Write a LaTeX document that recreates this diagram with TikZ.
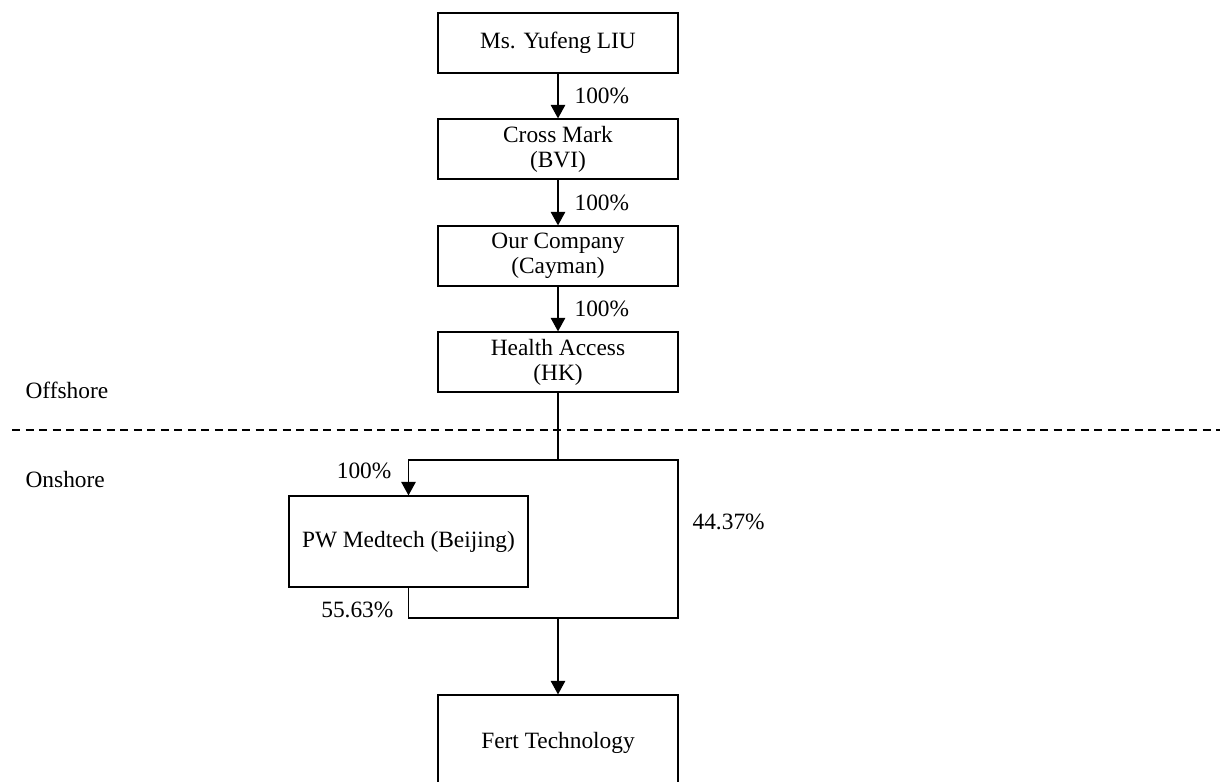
\documentclass[tikz,border=0pt]{standalone}
\usepackage{fontspec}
\setmainfont{Liberation Serif}
\usetikzlibrary{arrows.meta}

\begin{document}
\begin{tikzpicture}[x=0.02cm, y=-0.02cm, line width=0.7pt,
    every node/.style={font=\fontsize{13.3}{14.2}\selectfont},
    firm/.style={draw, align=center, inner sep=2pt, minimum width=4.8cm, minimum height=1.2cm},
    own/.style={-{Triangle[length=0.27cm, width=0.29cm]}},
    pct/.style={inner sep=0pt},
    border/.style={line width=0.6pt, dash pattern=on 4.6pt off 3.1pt}]
  \def\Xmid{558};
  \def\Xpw{408.5};
  \def\Xr{678};
  \def\Ysplit{460};
  \def\Yjoin{618};

  \clip (0,0) rectangle (1220,781);

  % boxes
  \node[firm] (liu) at (\Xmid, 43) {Ms. Yufeng LIU};
  \node[firm] (cross) at (\Xmid, 149) {Cross Mark\\(BVI)};
  \node[firm] (cayman) at (\Xmid, 256) {Our Company\\(Cayman)};
  \node[firm] (hk) at (\Xmid, 362) {Health Access\\(HK)};
  \node[firm, minimum width=4.78cm, minimum height=1.82cm] (pw) at (\Xpw, 541.5) {PW Medtech (Beijing)};
  \node[firm, minimum height=1.92cm] (fert) at (\Xmid, 743) {Fert Technology};

  % offshore / onshore
  \draw[border] (12, 430) -- (1220, 430);
  \node[pct, anchor=west] (off) at (25, 390) {Offshore};
  \node[pct, anchor=west] (on) at (25, 480) {Onshore};

  % arrows
  \draw[own] (liu) -- node[pct, right, xshift=0.32cm] (p1) {100\%} (cross);
  \draw[own] (cross) -- node[pct, right, xshift=0.32cm] (p2) {100\%} (cayman);
  \draw[own] (cayman) -- node[pct, right, xshift=0.32cm] (p3) {100\%} (hk);

  \coordinate (split) at (\Xmid, \Ysplit);
  \coordinate (rtop) at (\Xr, \Ysplit);
  \coordinate (rbot) at (\Xr, \Yjoin);
  \coordinate (join) at (\Xmid, \Yjoin);
  \draw (hk) -- (split);
  \draw[own] (split) -| (pw);
  \draw (split) -- (rtop) -- (rbot) -- (join);
  \draw (pw) |- (join);
  \draw[own] (join) -- (fert);

  % labels
  \node[pct, anchor=east] (p4) at (392, 471) {100\%};
  \node[pct, anchor=east] (p5) at (394, 610) {55.63\%};
  \node[pct, anchor=west] (p6) at (692, 522) {44.37\%};

\end{tikzpicture}
\end{document}
